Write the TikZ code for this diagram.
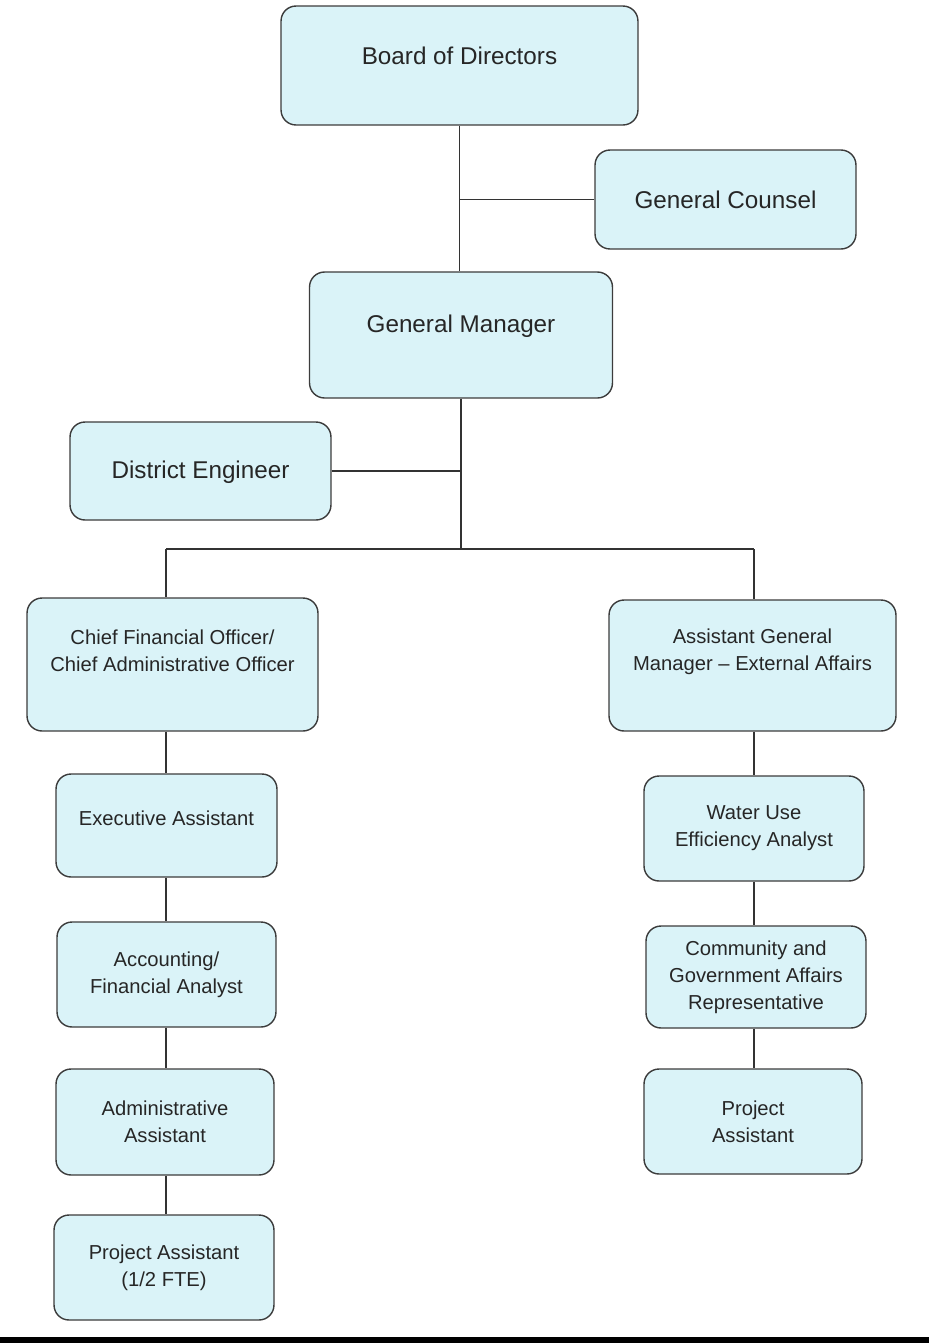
\documentclass[tikz,border=0pt]{standalone}
\usepackage{fontspec}
\setmainfont{Liberation Sans}
\definecolor{boxfill}{HTML}{DAF3F8}
\definecolor{boxline}{HTML}{3C3C3C}
\begin{document}
\begin{tikzpicture}
  [x=0.02cm,y=-0.02cm,
   every node/.style={rectangle,rounded corners=0.3cm,fill=boxfill,draw=boxline,line width=0.8pt,align=center,text=black!85},
   big/.style={font=\fontsize{13.8}{16.5}\selectfont},
   small/.style={font=\fontsize{11.5}{15.4}\selectfont},
   wire/.style={draw=black!80,line width=0.7pt}]
  \useasboundingbox (0,0) rectangle (929,1343);

  \node (bod) at (459.5,65.5) [big,minimum width=7.14cm,minimum height=2.38cm,text depth=0.4cm] {Board of Directors};
  \node (gc) at (725.5,199.5) [big,minimum width=5.22cm,minimum height=1.98cm] {General Counsel};
  \node (gm) at (461,335) [big,minimum width=6.06cm,minimum height=2.52cm,text depth=0.45cm] {General Manager};
  \node (de) at (200.5,471) [big,minimum width=5.22cm,minimum height=1.96cm,text depth=0.05cm] {District Engineer};

  \node (cfo) at (172.5,664.5) [small,minimum width=5.82cm,minimum height=2.66cm,text depth=0.56cm] {Chief Financial Officer/\\Chief Administrative Officer};
  \node (ea) at (166.5,825.5) [small,minimum width=4.42cm,minimum height=2.06cm,text depth=0.28cm] {Executive Assistant};
  \node (afa) at (166.5,974.5) [small,minimum width=4.38cm,minimum height=2.1cm] {Accounting/\\Financial Analyst};
  \node (aa) at (165,1122) [small,minimum width=4.36cm,minimum height=2.12cm] {Administrative\\Assistant};
  \node (pah) at (164,1267.5) [small,minimum width=4.4cm,minimum height=2.1cm] {Project Assistant\\(1/2 FTE)};

  \node (agm) at (752.5,665.5) [small,minimum width=5.74cm,minimum height=2.62cm,text depth=0.65cm] {Assistant General\\Manager -- External Affairs};
  \node (wue) at (754,828.5) [small,minimum width=4.4cm,minimum height=2.1cm] {Water Use\\Efficiency Analyst};
  \node (cga) at (756,977) [small,minimum width=4.4cm,minimum height=2.04cm] {Community and\\Government Affairs\\Representative};
  \node (pa) at (753,1121.5) [small,minimum width=4.36cm,minimum height=2.1cm] {Project\\Assistant};

  \coordinate (busl) at (166,549);
  \coordinate (busm) at (461,549);
  \coordinate (busr) at (754,549);

  \draw[wire] (bod.south) -- (bod.south |- gm.north);
  \draw[wire] (gc.west) -- (bod.south |- gc.west);
  \draw[wire] (gm.south) -- (busm);
  \draw[wire] (de.east) -- (gm.south |- de.east);
  \draw[wire] (busl) -- (busr);
  \draw[wire] (busl) -- (busl |- cfo.north);
  \draw[wire] (busr) -- (busr |- agm.north);

  \foreach \from/\to in {cfo/ea, ea/afa, afa/aa, aa/pah}
    \draw[wire] (busl |- \from.south) -- (busl |- \to.north);
  \foreach \from/\to in {agm/wue, wue/cga, cga/pa}
    \draw[wire] (busr |- \from.south) -- (busr |- \to.north);

  \fill[black] (0,1337) rectangle (929,1343);
\end{tikzpicture}
\end{document}
